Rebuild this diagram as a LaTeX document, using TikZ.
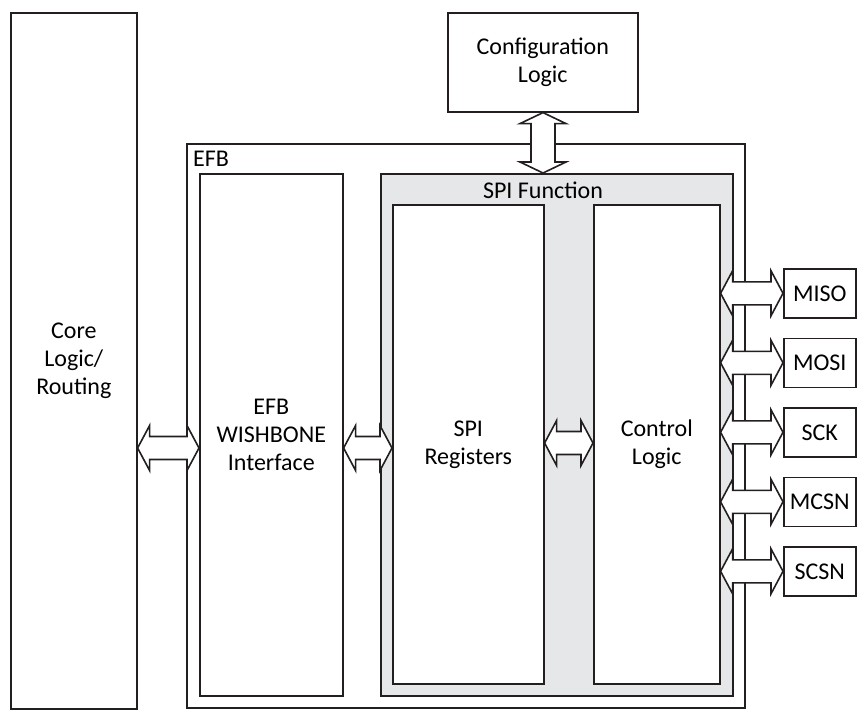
\documentclass[tikz,border=0pt]{standalone}
\usepackage{fontspec}
\setmainfont{Carlito}
\usetikzlibrary{calc}
\definecolor{spigray}{HTML}{E6E7E8}
\definecolor{ink}{HTML}{231F20}
\begin{document}
\begin{tikzpicture}[x=1pt,y=-1pt,
  box/.style={draw=ink, line width=1.6pt, fill=white, inner sep=0pt, align=center,
              font=\fontsize{24}{28}\selectfont, anchor=north west},
  lbl/.style={inner sep=0pt, font=\fontsize{24}{28}\selectfont},
  fatH/.style={draw=ink, line width=1.6pt, fill=white,
    to path={let \p1=(\tikztostart), \p2=(\tikztotarget) in
      (\x1,\y1) -- (\x1+12pt,\y1+22.5pt) -- (\x1+12pt,\y1+11.5pt) -- (\x2-12pt,\y2+11.5pt)
      -- (\x2-12pt,\y2+22.5pt) -- (\x2,\y2) -- (\x2-12pt,\y2-22.5pt) -- (\x2-12pt,\y2-11.5pt)
      -- (\x1+12pt,\y1-11.5pt) -- (\x1+12pt,\y1-22.5pt) -- cycle}},
  fatV/.style={draw=ink, line width=1.6pt, fill=white,
    to path={let \p1=(\tikztostart), \p2=(\tikztotarget) in
      (\x1,\y1) -- (\x1+23pt,\y1-11pt) -- (\x1+12pt,\y1-11pt) -- (\x2+12pt,\y2+11pt)
      -- (\x2+23pt,\y2+11pt) -- (\x2,\y2) -- (\x2-23pt,\y2+11pt) -- (\x2-12pt,\y2+11pt)
      -- (\x1-12pt,\y1-11pt) -- (\x1-23pt,\y1-11pt) -- cycle}},
]
\useasboundingbox (0,0) rectangle (857,713);

% main blocks
\node[box, minimum width=126pt, minimum height=696pt] (core) at (10,12) {Core\\Logic/\\Routing};
\node[box, minimum width=190pt, minimum height=99pt] (config) at (447,12) {Configuration\\Logic};
\node[box, minimum width=558pt, minimum height=564pt] (efb) at (186,143) {};
\node[lbl, anchor=base west] (efblbl) at (193,166) {EFB};
\node[box, minimum width=143pt, minimum height=522pt] (wb) at (199,173) {EFB\\WISHBONE\\Interface};
\node[box, fill=spigray, minimum width=352pt, minimum height=522pt] (spi) at (380,173) {};
\node[lbl, anchor=base] (spilbl) at (543,198) {SPI Function};
\node[box, minimum width=151pt, minimum height=479pt] (reg) at (392,204) {SPI\\Registers};
\node[box, minimum width=126pt, minimum height=479pt] (ctrl) at (593,204) {Control\\Logic};

% pins
\node[box, minimum width=72pt, minimum height=49pt] (miso) at (783,268) {MISO};
\node[box, minimum width=72pt, minimum height=49pt] (mosi) at (783,337.5) {MOSI};
\node[box, minimum width=72pt, minimum height=49pt] (sck) at (783,407) {SCK};
\node[box, minimum width=72pt, minimum height=49pt] (mcsn) at (783,476.5) {MCSN};
\node[box, minimum width=72pt, minimum height=49pt] (scsn) at (783,546) {SCSN};

% connectors
\coordinate (yA) at (0,448);
\coordinate (yB) at (0,443);
\draw[fatH] (core.east |- yA) to (wb.west |- yA);
\draw[fatH] (wb.east |- yA) to (reg.west |- yA);
\draw[fatH] (reg.east |- yB) to (ctrl.west |- yB);
\foreach \pin in {miso,mosi,sck,mcsn,scsn}
  \draw[fatH] (ctrl.east |- \pin.west) to (\pin.west);
\coordinate (cfgx) at (543,0);
\draw[fatV] (config.south -| cfgx) to (spi.north -| cfgx);
\end{tikzpicture}
\end{document}
